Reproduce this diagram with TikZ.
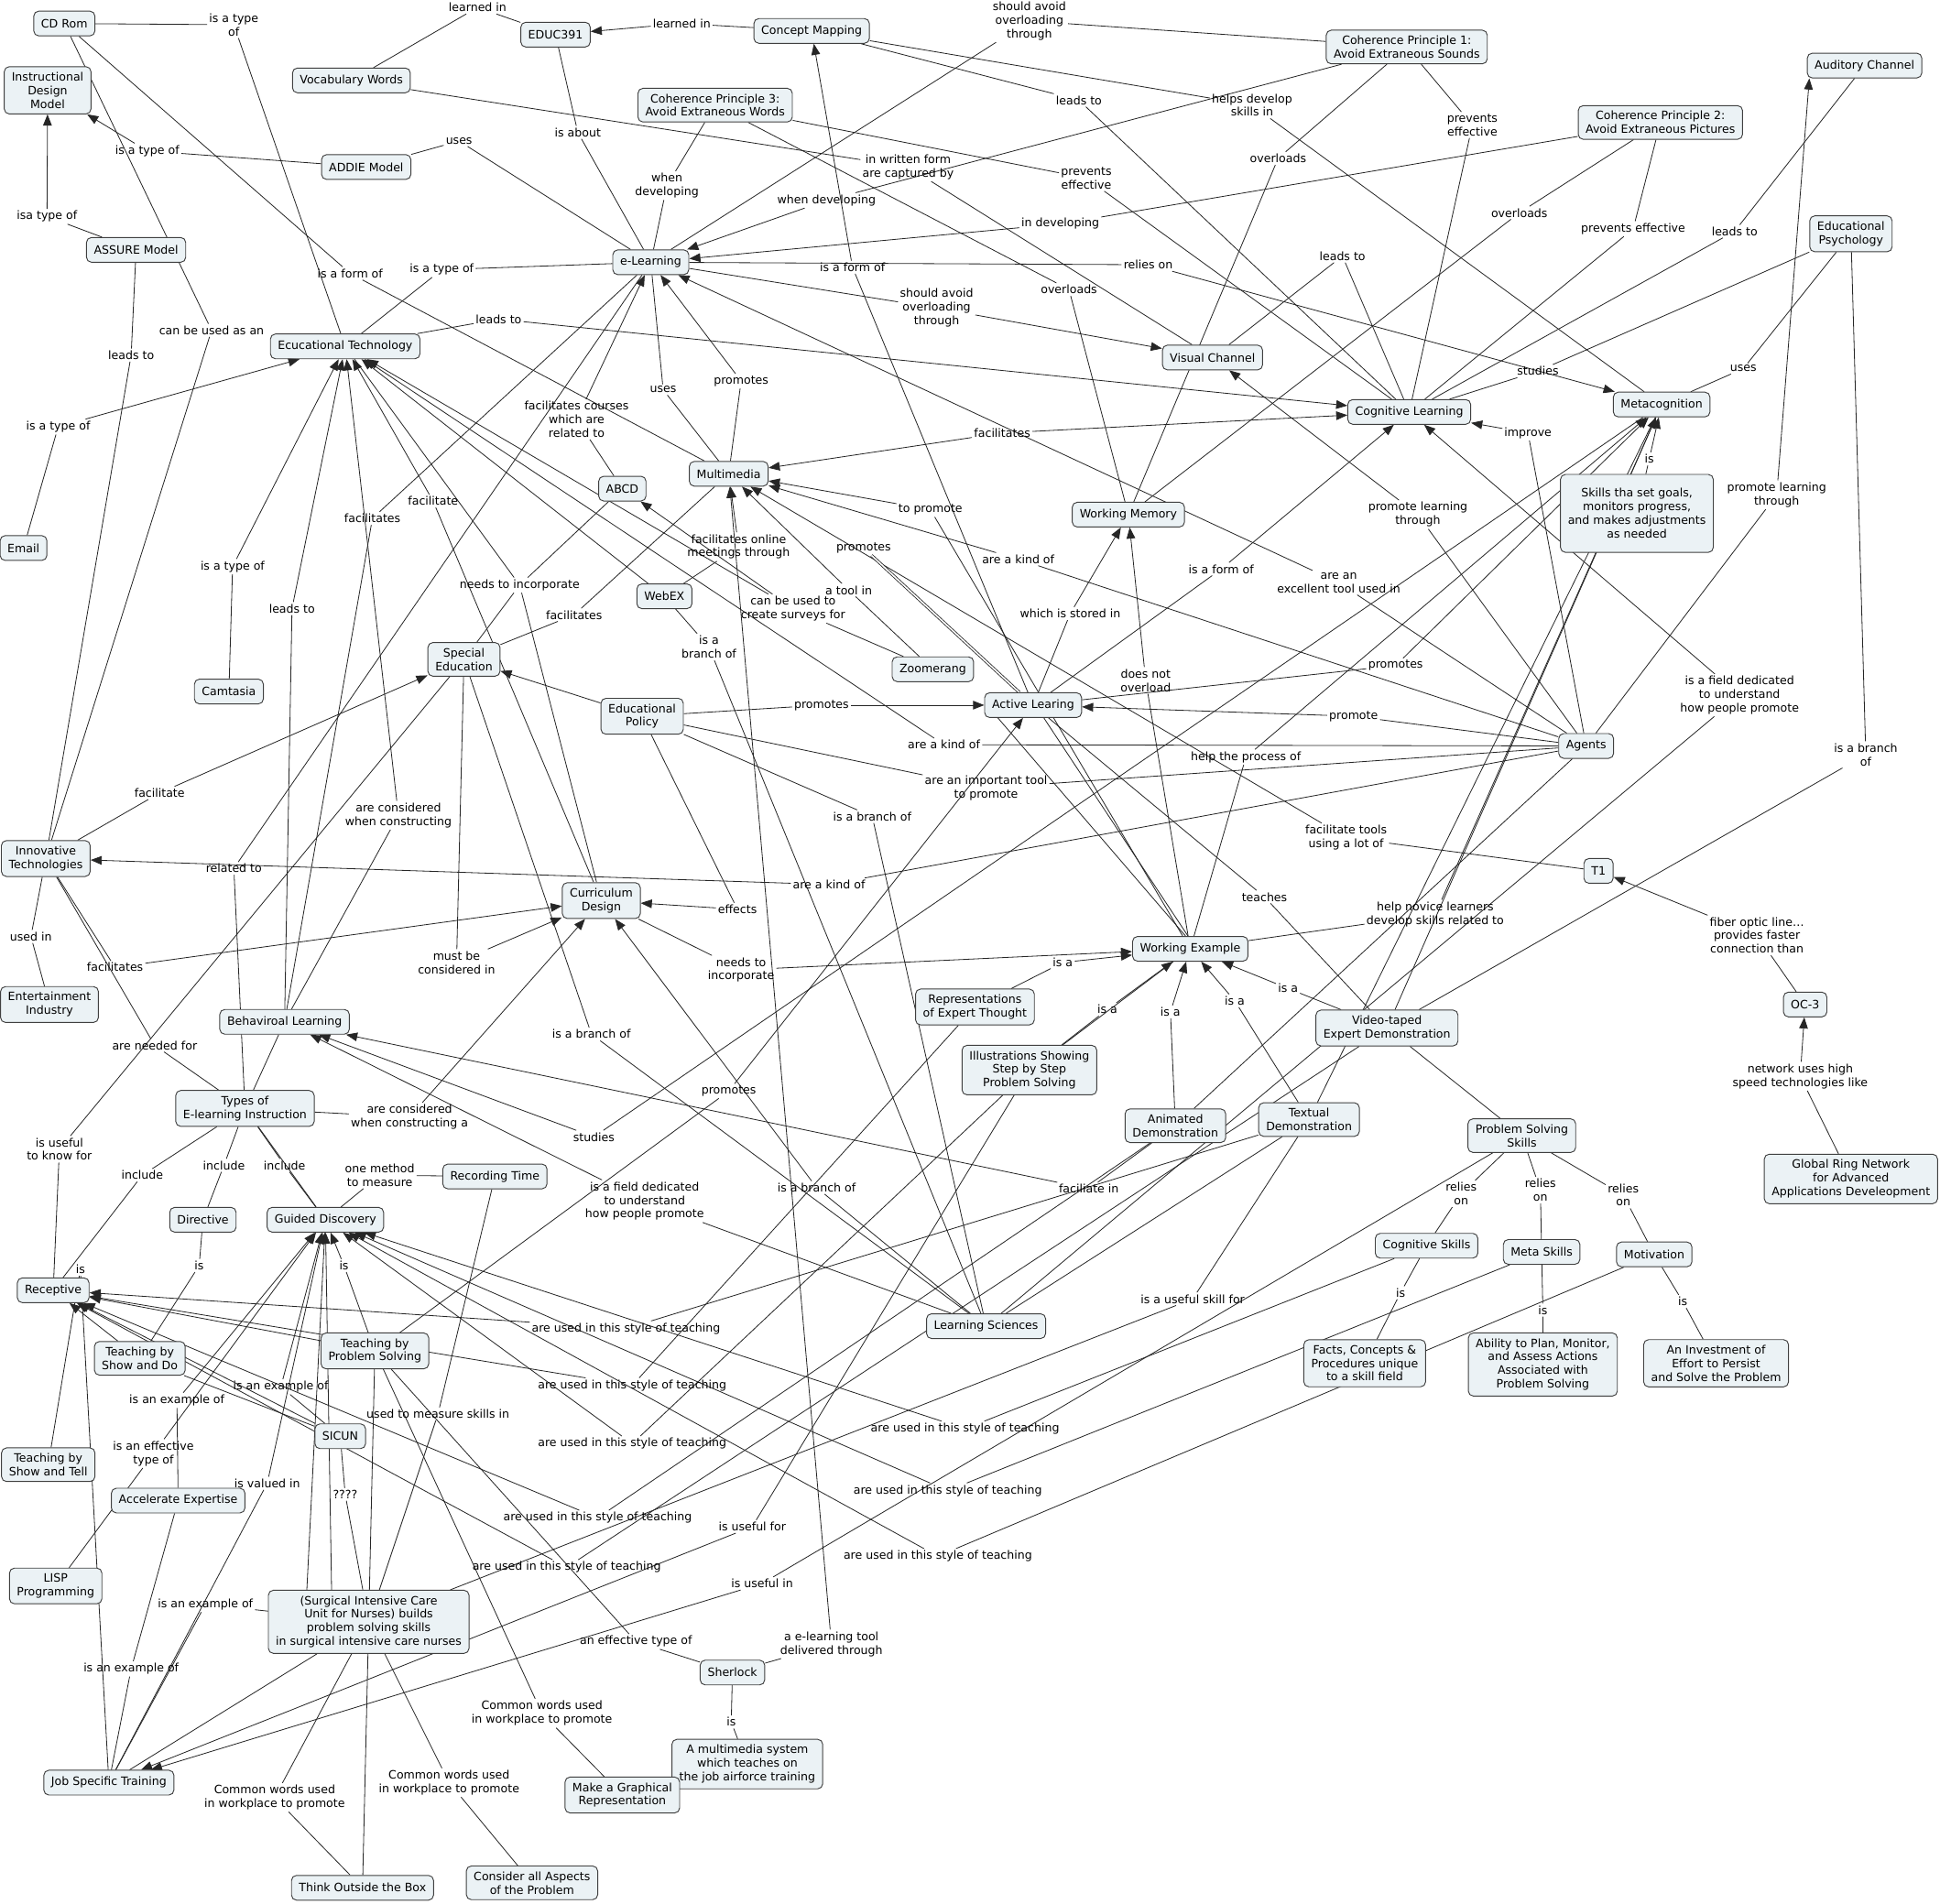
\documentclass[tikz,border=0pt]{standalone}
\usepackage{fontspec}
\setmainfont{DejaVu Sans}
\usetikzlibrary{arrows.meta}
\definecolor{cfill}{RGB}{235,242,245}
\pgfdeclarelayer{bg}
\pgfsetlayers{bg,main}
\tikzset{
  concept/.style={draw=black!75, fill=cfill, rounded corners=4pt, align=center,
    inner xsep=6pt, inner ysep=4.5pt, minimum height=20pt, line width=0.7pt},
  lab/.style={align=center, inner sep=1.5pt},
  lnk/.style={draw=black!85, line width=0.6pt},
  arr/.style={lnk, -{Triangle[length=9pt,width=7pt]}},
}
\begin{document}
\begin{tikzpicture}[x=1pt,y=-1pt,font=\fontsize{9.3}{11}\selectfont]
\useasboundingbox (0,0) rectangle (1568,1539);

% concepts
\node[concept] (cdrom) at (52,19) {CD Rom};
\node[concept] (idm) at (38.5,73) {Instructional\\Design\\Model};
\node[concept] (assure) at (110,202) {ASSURE Model};
\node[concept] (email) at (19,443) {Email};
\node[concept] (vocab) at (284,65) {Vocabulary Words};
\node[concept] (educ) at (449,28) {EDUC391};
\node[concept] (cmap) at (656,25) {Concept Mapping};
\node[concept] (addie) at (296,135) {ADDIE Model};
\node[concept] (cpthree) at (578,85) {Coherence Principle 3:\\Avoid Extraneous Words};
\node[concept] (cpone) at (1137,38) {Coherence Principle 1:\\Avoid Extraneous Sounds};
\node[concept] (audch) at (1507,53) {Auditory Channel};
\node[concept] (cptwo) at (1342,99) {Coherence Principle 2:\\Avoid Extraneous Pictures};
\node[concept] (edpsy) at (1496,189) {Educational\\Psychology};
\node[concept] (elearn) at (526,212) {e-Learning};
\node[concept] (edtech) at (279,280) {Ecucational Technology};
\node[concept] (vis) at (980,289) {Visual Channel};
\node[concept] (cogl) at (1139,333) {Cognitive Learning};
\node[concept] (metac) at (1343,327) {Metacognition};
\node[concept] (mmedia) at (589,383) {Multimedia};
\node[concept] (abcd) at (503,395) {ABCD};
\node[concept] (wmem) at (912,416) {Working Memory};
\node[concept, minimum height=63pt] (skills) at (1323,415) {Skills tha set goals,\\monitors progress,\\and makes adjustments\\as needed};
\node[concept] (webex) at (537,482) {WebEX};
\node[concept] (sped) at (375,533) {Special\\Education};
\node[concept] (zoomer) at (754,541) {Zoomerang};
\node[concept] (camt) at (185,559) {Camtasia};
\node[concept] (edpol) at (519,579) {Educational\\Policy};
\node[concept] (active) at (835,570) {Active Learing};
\node[concept] (agents) at (1282,603) {Agents};
\node[concept] (innov) at (37,694) {Innovative\\Technologies};
\node[concept] (curric) at (486,728) {Curriculum\\Design};
\node[concept] (tone) at (1292,704) {T1};
\node[concept] (workex) at (962,767) {Working Example};
\node[concept] (ent) at (40,812) {Entertainment\\Industry};
\node[concept] (repr) at (788,814) {Representations\\of Expert Thought};
\node[concept] (behav) at (230,826) {Behaviroal Learning};
\node[concept] (illus) at (832,865) {Illustrations Showing\\Step by Step\\Problem Solving};
\node[concept] (video) at (1121,831) {Video-taped\\Expert Demonstration};
\node[concept] (octhree) at (1459,812) {OC-3};
\node[concept] (types) at (198,896) {Types of\\E-learning Instruction};
\node[concept] (anim) at (950,910) {Animated\\Demonstration};
\node[concept] (textual) at (1058,905) {Textual\\Demonstration};
\node[concept] (pss) at (1230,918) {Problem Solving\\Skills};
\node[concept] (rec) at (400,951) {Recording Time};
\node[concept] (ring) at (1496,953) {Global Ring Network\\for Advanced\\Applications Develeopment};
\node[concept] (directive) at (164,986) {Directive};
\node[concept] (guided) at (263,986) {Guided Discovery};
\node[concept] (cogsk) at (1153,1007) {Cognitive Skills};
\node[concept] (metask) at (1246,1012) {Meta Skills};
\node[concept] (motiv) at (1337,1014) {Motivation};
\node[concept] (recep) at (43,1043) {Receptive};
\node[concept] (lsci) at (797,1072) {Learning Sciences};
\node[concept] (showdo) at (113,1098) {Teaching by\\Show and Do};
\node[concept] (tps) at (303,1092) {Teaching by\\Problem Solving};
\node[concept] (facts) at (1103,1102) {Facts, Concepts \&\\Procedures unique\\to a skill field};
\node[concept] (ability) at (1247,1103) {Ability to Plan, Monitor,\\and Assess Actions\\Associated with\\Problem Solving};
\node[concept] (invest) at (1387,1102) {An Investment of\\Effort to Persist\\and Solve the Problem};
\node[concept] (sicun) at (275,1161) {SICUN};
\node[concept] (showtell) at (39,1184) {Teaching by\\Show and Tell};
\node[concept] (accel) at (144,1213) {Accelerate Expertise};
\node[concept] (lisp) at (45,1282) {LISP\\Programming};
\node[concept] (surg) at (298,1311) {(Surgical Intensive Care\\Unit for Nurses) builds\\problem solving skills\\in surgical intensive care nurses};
\node[concept] (sherlock) at (592,1352) {Sherlock};
\node[concept] (mmsys) at (604,1426) {A multimedia system\\which teaches on\\the job airforce training};
\node[concept] (job) at (88,1441) {Job Specific Training};
\node[concept] (graph) at (503,1451) {Make a Graphical\\Representation};
\node[concept] (think) at (293,1526) {Think Outside the Box};
\node[concept] (consider) at (430,1522) {Consider all Aspects\\of the Problem};

% linking phrases
\node[lab] (ltype1) at (189,20) {is a type\\of};
\node[lab] (llearn1) at (386,6) {learned in};
\node[lab] (llearn2) at (551,19) {learned in};
\node[lab] (labout) at (467,107) {is about};
\node[lab] (lavoid1) at (832,17) {should avoid\\overloading\\through};
\node[lab] (lwhen1) at (539,150) {when\\developing};
\node[lab] (lwhen2) at (668,162) {when developing};
\node[lab] (lwritten) at (734,135) {in written form\\are captured by};
\node[lab] (lhelps) at (1012,85) {helps develop\\skills in};
\node[lab] (llead1) at (872,81) {leads to};
\node[lab] (lprev1) at (878,144) {prevents\\effective};
\node[lab] (lover1) at (1033,128) {overloads};
\node[lab] (lprev2) at (1190,101) {prevents\\effective};
\node[lab] (lindev) at (857,181) {in developing};
\node[lab] (lover2) at (1228,172) {overloads};
\node[lab] (lprev3) at (1320,185) {prevents effective};
\node[lab] (llead2) at (1402,187) {leads to};
\node[lab] (lover3) at (864,234) {overloads};
\node[lab] (lform1) at (689,216) {is a form of};
\node[lab] (lrelies) at (928,214) {relies on};
\node[lab] (lavoid2) at (757,249) {should avoid\\overloading\\through};
\node[lab] (llead3) at (1085,207) {leads to};
\node[lab] (lstud1) at (1243,300) {studies};
\node[lab] (luses1) at (1409,298) {uses};
\node[lab] (limprove) at (1235,350) {improve};
\node[lab] (lis1) at (1333,371) {is};
\node[lab] (ltype2) at (119,122) {is a type of};
\node[lab] (lisa) at (38,175) {isa type of};
\node[lab] (luses2) at (371,114) {uses};
\node[lab] (lcanbe) at (171,267) {can be used as an};
\node[lab] (llead4) at (106,287) {leads to};
\node[lab] (lform2) at (283,221) {is a form of};
\node[lab] (ltype3) at (357,218) {is a type of};
\node[lab] (ltype4) at (47,345) {is a type of};
\node[lab] (llead5) at (403,258) {leads to};
\node[lab] (ltype5) at (188,458) {is a type of};
\node[lab] (llead6) at (236,492) {leads to};
\node[lab] (lfacs1) at (301,419) {facilitates};
\node[lab] (lfac1) at (350,405) {facilitate};
\node[lab] (lneeds1) at (420,473) {needs to incorporate};
\node[lab] (lcourses) at (466,339) {facilitates courses\\which are\\related to};
\node[lab] (luses3) at (536,315) {uses};
\node[lab] (lprom1) at (599,308) {promotes};
\node[lab] (lfacs2) at (810,350) {facilitates};
\node[lab] (ltoprom) at (752,412) {to promote};
\node[lab] (lprom2) at (698,443) {promotes};
\node[lab] (ltool) at (686,477) {a tool in};
\node[lab] (lsurveys) at (641,492) {can be used to\\create surveys for};
\node[lab] (lonline) at (597,442) {facilitates online\\meetings through};
\node[lab] (lbranch1) at (573,523) {is a\\branch of};
\node[lab] (lfacs3) at (464,497) {facilitates};
\node[lab] (lkind1) at (823,452) {are a kind of};
\node[lab] (lstored) at (865,496) {which is stored in};
\node[lab] (lform3) at (987,460) {is a form of};
\node[lab] (lexcel) at (1082,471) {are an\\excellent tool used in};
\node[lab] (lplt1) at (1146,416) {promote learning\\through};
\node[lab] (lplt2) at (1436,400) {promote learning\\through};
\node[lab] (lprom3) at (1128,538) {promotes};
\node[lab] (ldoesnot) at (926,550) {does not\\overload};
\node[lab] (lprom4) at (664,570) {promotes};
\node[lab] (lkind2) at (763,602) {are a kind of};
\node[lab] (lpromote) at (1094,579) {promote};
\node[lab] (lhelpproc) at (1007,612) {help the process of};
\node[lab] (lfield1) at (1406,562) {is a field dedicated\\to understand\\how people promote};
\node[lab] (lbranch2) at (1508,610) {is a branch\\of};
\node[lab] (limport) at (797,637) {are an important tool\\to promote};
\node[lab] (lbranch3) at (705,660) {is a branch of};
\node[lab] (lfactools) at (1088,677) {facilitate tools\\using a lot of};
\node[lab] (lfac2) at (129,641) {facilitate};
\node[lab] (lconstr1) at (322,659) {are considered\\when constructing};
\node[lab] (lrelated) at (189,702) {related to};
\node[lab] (lkind3) at (670,715) {are a kind of};
\node[lab] (leffects) at (596,735) {effects};
\node[lab] (lteaches) at (1022,725) {teaches};
\node[lab] (lnovice) at (1160,739) {help novice learners\\develop skills related to};
\node[lab] (lfiber) at (1420,756) {fiber optic line…\\provides faster\\connection than};
\node[lab] (lusedin) at (25,757) {used in};
\node[lab] (lfacs4) at (93,782) {facilitates};
\node[lab] (lmust) at (369,778) {must be\\considered in};
\node[lab] (lneeds2) at (599,784) {needs to\\incorporate};
\node[lab] (lbranch4) at (478,836) {is a branch of};
\node[lab] (lneeded) at (125,845) {are needed for};
\node[lab] (lnetwork) at (1455,870) {network uses high\\speed technologies like};
\node[lab] (lprom5) at (589,882) {promotes};
\node[lab] (lconstr2) at (331,903) {are considered\\when constructing a};
\node[lab] (lstud2) at (480,919) {studies};
\node[lab] (luseful1) at (48,929) {is useful\\to know for};
\node[lab] (linc1) at (115,950) {include};
\node[lab] (linc2) at (181,942) {include};
\node[lab] (linc3) at (230,942) {include};
\node[lab] (lmethod) at (307,950) {one method\\to measure};
\node[lab] (lfacin) at (880,961) {faciliate in};
\node[lab] (lfield2) at (521,971) {is a field dedicated\\to understand\\how people promote};
\node[lab] (lbranch5) at (660,960) {is a branch of};
\node[lab] (lrel1) at (1181,965) {relies\\on};
\node[lab] (lrel2) at (1245,962) {relies\\on};
\node[lab] (lrel3) at (1312,966) {relies\\on};
\node[lab] (lis2) at (161,1023) {is};
\node[lab] (lis3) at (65,1026) {is};
\node[lab] (lis4) at (278,1023) {is};
\node[lab] (lis5) at (1132,1045) {is};
\node[lab] (lis6) at (1247,1059) {is};
\node[lab] (lis7) at (1360,1052) {is};
\node[lab] (lis8) at (591,1392) {is};
\node[lab] (luskill) at (964,1050) {is a useful skill for};
\node[lab] (lusedmeas) at (354,1143) {used to measure skills in};
\node[lab] (lexam1) at (227,1121) {is an example of};
\node[lab] (lexam2) at (143,1132) {is an example of};
\node[lab] (leffect1) at (124,1175) {is an effective\\type of};
\node[lab] (lvalued) at (216,1199) {is valued in};
\node[lab] (lqq) at (279,1208) {????};
\node[lab] (lusefor) at (608,1234) {is useful for};
\node[lab] (lusein) at (616,1280) {is useful in};
\node[lab] (lexam3) at (166,1297) {is an example of};
\node[lab] (leffect2) at (514,1327) {an effective type of};
\node[lab] (ldeliv) at (672,1329) {a e-learning tool\\delivered through};
\node[lab] (lexam4) at (106,1349) {is an example of};
\node[lab] (lcommon1) at (438,1385) {Common words used\\in workplace to promote};
\node[lab] (lcommon2) at (363,1441) {Common words used\\in workplace to promote};
\node[lab] (lcommon3) at (222,1453) {Common words used\\in workplace to promote};

\def\isalist{lisa1/859/778/repr, lisa2/895/816/illus, lisa3/946/818/anim,
  lisa4/998/809/textual, lisa5/1041/799/video}
\foreach \n/\x/\y/\s in \isalist
  \node[lab] (\n) at (\x,\y) {is a};
\def\stylelist{sa/506/1074/textual/recep, sb/511/1120/repr/recep, sc/511/1167/illus/guided,
  sd/780/1155/cogsk/guided, se/483/1227/anim/recep, sf/766/1205/metask/guided,
  sg/458/1267/video/recep, sh/758/1258/motiv/guided}
\foreach \n/\x/\y/\s/\t in \stylelist
  \node[lab] (\n) at (\x,\y) {are used in this style of teaching};

\begin{pgfonlayer}{bg}
  \fill[white] (0,0) rectangle (1568,1539);
  % plain links
  \foreach \s/\l/\t in {cdrom/ltype1/edtech, vocab/llearn1/educ, educ/labout/elearn,
      cpone/lavoid1/elearn, cpthree/lwhen1/elearn, vocab/lwritten/vis, cmap/lhelps/metac,
      cmap/llead1/cogl, cpthree/lprev1/cogl, cpone/lover1/wmem, cpone/lprev2/cogl,
      cptwo/lover2/wmem, cptwo/lprev3/cogl, audch/llead2/cogl, cpthree/lover3/wmem,
      vis/llead3/cogl, edpsy/lstud1/cogl, edpsy/luses1/metac, addie/luses2/elearn,
      cdrom/lcanbe/innov, assure/llead4/innov, cdrom/lform2/mmedia, edtech/ltype3/elearn,
      behav/lfacs1/elearn, edtech/lneeds1/curric, sped/lneeds1/abcd, elearn/luses3/mmedia,
      webex/lbranch1/lsci, sped/lfacs3/mmedia, video/lbranch2/edpsy, edpol/limport/agents,
      edpol/lbranch3/lsci, types/lrelated/elearn, video/lteaches/active, workex/lnovice/metac,
      innov/lusedin/ent, sped/lbranch4/lsci, innov/lneeded/types, sped/luseful1/recep,
      types/linc1/recep, types/linc2/directive, types/linc3/guided, rec/lmethod/guided,
      pss/lrel1/cogsk, pss/lrel2/metask, pss/lrel3/motiv, directive/lis2/showdo,
      cogsk/lis5/facts, textual/luskill/surg, metask/lis6/ability, motiv/lis7/invest,
      rec/lusedmeas/surg, sicun/lqq/surg, surg/lexam3/job, sherlock/leffect2/tps,
      accel/lexam4/job, graph/lcommon1/tps, sherlock/lis8/mmsys, consider/lcommon2/surg,
      think/lcommon3/surg, showtell/lis3/job}
    \draw[lnk] (\s) -- (\l) -- (\t);
  % links with a head
  \foreach \s/\l/\t in {cmap/llearn2/educ, cpone/lwhen2/elearn, cptwo/lindev/elearn,
      active/lform1/cmap, elearn/lrelies/metac, elearn/lavoid2/vis, agents/limprove/cogl,
      skills/lis1/metac, addie/ltype2/idm, assure/lisa/idm, email/ltype4/edtech,
      edtech/llead5/cogl, camt/ltype5/edtech, behav/llead6/edtech, curric/lfac1/edtech,
      abcd/lcourses/elearn, mmedia/lprom1/elearn, workex/ltoprom/mmedia, zoomer/ltool/mmedia,
      zoomer/lsurveys/abcd, webex/lonline/mmedia, agents/lkind1/mmedia, active/lstored/wmem,
      active/lform3/cogl, agents/lexcel/elearn, agents/lplt1/vis,
      active/lprom3/metac, workex/ldoesnot/wmem, edpol/lprom4/active, agents/lkind2/edtech,
      agents/lpromote/active, workex/lhelpproc/metac, lsci/lfield1/cogl, tone/lfactools/mmedia,
      innov/lfac2/sped, behav/lconstr1/edtech, agents/lkind3/innov, edpol/leffects/curric,
      octhree/lfiber/tone, innov/lfacs4/curric, sped/lmust/curric, curric/lneeds2/workex,
      ring/lnetwork/octhree, tps/lprom5/active, types/lconstr2/curric, metac/lstud2/behav,
      anim/lfacin/behav, lsci/lfield2/behav, lsci/lbranch5/curric, tps/lis4/guided,
      sicun/lexam1/guided, accel/lexam2/guided, lisp/leffect1/guided, job/lvalued/guided,
      illus/lusefor/job, pss/lusein/job, sherlock/ldeliv/mmedia, lfacs2/lfacs2/mmedia,
      lfacs2/lfacs2/cogl, lsurveys/lsurveys/edtech}
    {\draw[lnk] (\s) -- (\l); \draw[arr] (\l) -- (\t);}
  \foreach \n/\x/\y/\s in \isalist
    {\draw[lnk] (\s) -- (\n); \draw[arr] (\n) -- (workex);}
  \foreach \n/\x/\y/\s/\t in \stylelist
    {\draw[lnk] (\s) -- (\n); \draw[arr] (\n) -- (\t);}
  \draw[lnk] (agents) -- (lplt2);
  \draw[arr] (lplt2) -- ([xshift=2pt]audch.south west);
  % links with no phrase
  \draw[lnk, double distance=1.2pt] (lprom2) -- (active);
  \draw[arr] (webex) -- (edtech);
  \draw[arr] (edpol) -- (sped);
  \draw[arr] (video) -- (metac);
  \draw[arr] (tps) -- (recep);
  \draw[arr] (showdo) -- (recep);
  \draw[arr] (sicun) -- (recep);
  \draw[arr] ([xshift=-50pt]surg.north) -- (guided);
  \draw[arr] ([xshift=-30pt]surg.north) -- (guided);
  \draw[lnk] (types) -- (behav);
  \draw[lnk] (types) -- (guided);
  \draw[lnk] (active.200) -- (workex.110);
  \draw[lnk] (active.310) -- (workex.100);
  \draw[lnk] (illus) -- (workex);
  \draw[lnk] (anim) -- (agents);
  \draw[lnk] (textual) -- (metac);
  \draw[lnk] (video) -- (pss);
  \draw[lnk] (lsci) -- (textual);
  \draw[lnk] (showdo) -- (sicun);
  \draw[lnk] (tps) -- (surg);
  \draw[lnk] (job) -- (surg);
  \draw[lnk] (think) -- (surg);
\end{pgfonlayer}
\end{tikzpicture}
\end{document}
